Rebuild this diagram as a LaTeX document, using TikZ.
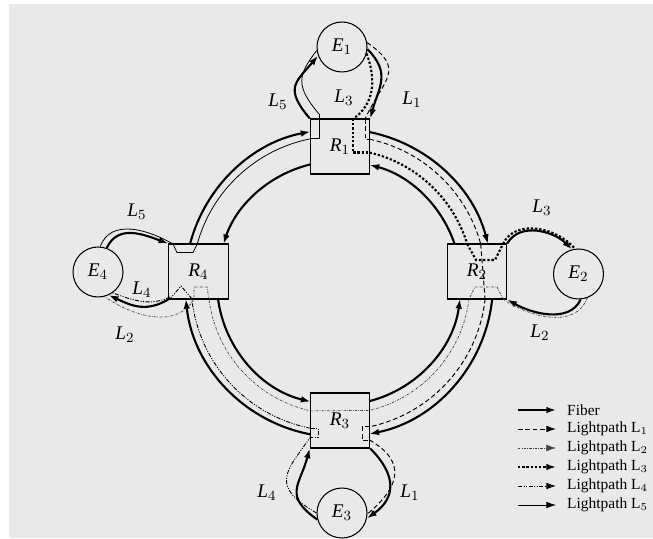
\documentclass[tikz,border=0pt]{standalone}
\usepackage{fontspec}
\setmainfont{Liberation Serif}
\usetikzlibrary{arrows.meta}

\definecolor{bg}{RGB}{233,233,233}

\tikzset{
  fiber/.style={line width=1.2pt, -{Latex[length=5.5pt,width=3.8pt]}},
  lpone/.style={line width=0.55pt, dash pattern=on 2.6pt off 1.6pt},
  lptwo/.style={line width=0.4pt, black!75, dash pattern=on 1.4pt off 0.7pt on 0.35pt off 0.7pt},
  lpthree/.style={line width=1.2pt, dash pattern=on 1.3pt off 1.1pt},
  lpfour/.style={line width=0.5pt, dash pattern=on 2.4pt off 0.8pt on 0.6pt off 0.8pt on 0.6pt off 0.8pt},
  lpfive/.style={line width=0.45pt},
  router/.style={draw, fill=bg, line width=0.6pt, minimum width=1.19cm, minimum height=1.1cm, inner sep=0pt, font=\fontsize{11}{13}\selectfont},
  host/.style={circle, draw, fill=bg, line width=0.6pt, minimum size=1cm, inner sep=0pt, font=\fontsize{11}{13}\selectfont},
  tag/.style={font=\fontsize{11}{13}\selectfont},
  key/.style={font=\fontsize{8.8}{10}\selectfont, anchor=west},
}

\begin{document}
\begin{tikzpicture}[x=0.02cm, y=0.02cm]
  \useasboundingbox (0,0) rectangle (653,538);
  \fill[bg] (9,0) rectangle (653,534);

  % Ring centre
  \coordinate (ring) at (339,255);

  % Outer fibre (clockwise)
  \draw[fiber] (ring) ++(165.3:154) arc[start angle=165.3, end angle=100.7, radius=154];
  \draw[fiber] (ring) ++(78.6:154) arc[start angle=78.6, end angle=14.7, radius=154];
  \draw[fiber] (ring) ++(-6:154) arc[start angle=-6, end angle=-78.6, radius=154];
  \draw[fiber] (ring) ++(-100.7:154) arc[start angle=-100.7, end angle=-174, radius=154];

  % Inner fibre (counter-clockwise)
  \draw[fiber] (ring) ++(103.5:122) arc[start angle=103.5, end angle=161.4, radius=122];
  \draw[fiber] (ring) ++(187.5:122) arc[start angle=187.5, end angle=256.5, radius=122];
  \draw[fiber] (ring) ++(-75.5:122) arc[start angle=-75.5, end angle=-7.5, radius=122];
  \draw[fiber] (ring) ++(18.6:122) arc[start angle=18.6, end angle=75.5, radius=122];

  % Lightpaths along the ring
  \draw[lpfive] (ring) ++(164.6:147) arc[start angle=164.6, end angle=101.2, radius=147];
  \draw[lpone] (ring) ++(78:147) arc[start angle=78, end angle=15.4, radius=147];
  \draw[lpthree] (ring) ++(76.8:134) arc[start angle=76.8, end angle=16.9, radius=134];
  \draw[lpone] (ring) ++(-6.2:147) arc[start angle=-6.2, end angle=-78, radius=147];
  \draw[lptwo] (ring) ++(-7:131) arc[start angle=-7, end angle=-76.5, radius=131];
  \draw[lptwo] (ring) ++(-103.5:131) arc[start angle=-103.5, end angle=-173, radius=131];
  \draw[lpfour] (ring) ++(-101.1:148) arc[start angle=-101.1, end angle=-173.8, radius=148];

  % Routers
  \node[router] (R1) at (340,391.5) {$\mathit{R}_1$};
  \node[router] (R2) at (477,266.5) {$\mathit{R}_2$};
  \node[router] (R3) at (340,117.5) {$\mathit{R}_3$};
  \node[router] (R4) at (198.5,266.5) {$\mathit{R}_4$};

  % Switching inside the routers
  \draw[lpfive] (310.5,399.2) -- (319,399.2) -- (319,424);
  \draw[lpone] (365,419) -- (365,398.8) -- (369.5,398.8);
  \draw[lpthree] (353,419) -- (353,385.5) -- (369.5,385.5);
  \draw[lpthree] (467.2,294) -- (476,278) -- (495,278) -- (503,294);
  \draw[lpone] (480.7,294) -- (485.1,239);
  \draw[lptwo] (503,239) -- (497,251) -- (475,251) -- (469,239);
  \draw[lptwo] (310.5,127.1) -- (369.5,127.6);
  \draw[lpone] (369.5,111.2) -- (362,111.2) -- (362,98) -- (369.5,98);
  \draw[lpfour] (310.5,109.8) -- (318,109.8) -- (318,101) -- (310.5,101);
  \draw[lpfive] (173,294) -- (177,285.5) -- (193,285.5) -- (197.3,294);
  \draw[lpfour] (192.1,239) -- (181,252) -- (170,239);
  \draw[lptwo] (209,239) -- (207,251) -- (194,251) -- (194,239);

  % End nodes
  \node[host] (E1) at (342,491) {$\mathit{E}_1$};
  \node[host] (E2) at (578.5,264) {$\mathit{E}_2$};
  \node[host] (E3) at (342,25) {$\mathit{E}_3$};
  \node[host] (E4) at (98,266) {$\mathit{E}_4$};

  % Access fibres and lightpaths: E1
  \draw[fiber] (R1.north west) .. controls +(130:40) and +(230:35) .. (E1.200);
  \draw[lpfive] (319,424) .. controls +(130:36) and +(232:32) .. (E1.188);
  \draw[fiber] (E1.-5) .. controls +(-45:34) and +(75:32) .. (R1.north east);
  \draw[lpthree] (E1.-15) .. controls +(-70:30) and +(35:25) .. (353,419);
  \draw[lpone] (E1.10) .. controls +(-35:48) and +(65:45) .. (365,419);

  % E2
  \draw[fiber] (R2.north east) to[out=60, in=135, looseness=1] (E2.105);
  \draw[lpthree] (503,294) to[out=65, in=130, looseness=1] (E2.98);
  \draw[fiber] (E2.275) to[out=-115, in=-30, looseness=0.95] (R2.south east);
  \draw[lptwo] (E2.290) to[out=-110, in=-35, looseness=1] (503,239);

  % E4
  \draw[fiber] (E4.70) to[out=65, in=160, looseness=1.1] (R4.north west);
  \draw[lpfive] (E4.85) to[out=70, in=150, looseness=1.05] (173,294);
  \draw[fiber] (R4.south west) to[out=-150, in=-25, looseness=1.1] (E4.-65);
  \draw[lpfour] (170,241) to[out=-155, in=-20, looseness=1] (E4.-55);
  \draw[lptwo] (194,239) to[out=-120, in=-35, looseness=1] (E4.-75);

  % E3
  \draw[fiber] (E3.195) .. controls +(145:42) and +(-105:38) .. (R3.south west);
  \draw[lpfour] (E3.180) .. controls +(150:55) and +(-125:42) .. (310.5,101);
  \draw[fiber] (R3.south east) .. controls +(-45:38) and +(35:35) .. (E3.-12);
  \draw[lpone] (369.5,98) .. controls +(-30:45) and +(40:40) .. (E3.-2);

  % Lightpath labels
  \node[tag] (l5a) at (278,436) {$\mathit{L}_5$};
  \node[tag] (l3a) at (344,440) {$\mathit{L}_3$};
  \node[tag] (l1a) at (412,438) {$\mathit{L}_1$};
  \node[tag] (l3b) at (542,330) {$\mathit{L}_3$};
  \node[tag] (l2b) at (540,205) {$\mathit{L}_2$};
  \node[tag] (l5d) at (137,326) {$\mathit{L}_5$};
  \node[tag] (l4d) at (142,248) {$\mathit{L}_4$};
  \node[tag] (l2d) at (125,203) {$\mathit{L}_2$};
  \node[tag] (l4c) at (267,45) {$\mathit{L}_4$};
  \node[tag] (l1c) at (410,45) {$\mathit{L}_1$};

  % Legend
  \foreach \sty/\txt [count=\i] in {fiber/Fiber, lpone/Lightpath L$_1$, lptwo/Lightpath L$_2$,
      lpthree/Lightpath L$_3$, lpfour/Lightpath L$_4$, lpfive/Lightpath L$_5$} {
    \coordinate (k\i) at (518,147-19*\i);
    \coordinate (h\i) at (556,147-19*\i);
    \draw[\sty, -{Latex[length=5.5pt,width=3.8pt]}] (k\i) -- (h\i);
    \node[key] (t\i) at (561,147-19*\i) {\txt};
  }
\end{tikzpicture}
\end{document}
